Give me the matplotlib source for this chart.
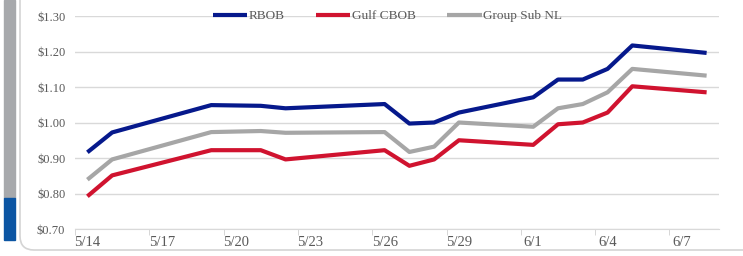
import matplotlib
matplotlib.use("Agg")
from matplotlib import pyplot as plt
from matplotlib.patches import Rectangle, FancyBboxPatch
import pandas as pd
import numpy as np

# data (dates with prices; gaps are bridged by straight lines)
dates = ["5/14", "5/15", "5/19", "5/21", "5/22", "5/26", "5/27", "5/28",
         "5/29", "6/1", "6/2", "6/3", "6/4", "6/5", "6/8"]
rbob = [0.916, 0.972, 1.049, 1.047, 1.040, 1.052, 0.997, 1.000,
        1.028, 1.071, 1.121, 1.121, 1.151, 1.217, 1.196]
gulf_cbob = [0.792, 0.851, 0.922, 0.922, 0.896, 0.922, 0.878, 0.896,
             0.950, 0.937, 0.995, 1.000, 1.028, 1.102, 1.085]
group_sub_nl = [0.839, 0.896, 0.973, 0.976, 0.971, 0.973, 0.917, 0.932,
                1.000, 0.988, 1.040, 1.052, 1.085, 1.151, 1.132]

tick_labels = ["5/14", "5/17", "5/20", "5/23", "5/26", "5/29", "6/1", "6/4", "6/7"]
y_ticks = [0.70, 0.80, 0.90, 1.00, 1.10, 1.20, 1.30]

BLUE = "#06198c"
RED = "#d0132f"
GREY = "#a6a6a6"
TXT = "#595959"
FONT = ["Liberation Serif", "DejaVu Serif"]

# day offsets from the first date
dt = pd.to_datetime([f"2018/{d}" for d in dates], format="%Y/%m/%d")
x = np.asarray((dt - dt[0]).days, dtype=float)
n_days = int(x[-1]) + 1

fig = plt.figure(figsize=(7.43, 2.56), dpi=100)

# background axes in pixel units: card frame and left accent bar from the screenshot
bg = fig.add_axes([0, 0, 1, 1])
bg.set_xlim(0, 743)
bg.set_ylim(256, 0)
bg.axis("off")
bg.add_patch(FancyBboxPatch((20, -60), 760, 310,
                            boxstyle="round,pad=0,rounding_size=14",
                            facecolor="white", edgecolor="#d4d4d4", linewidth=1.2))
bg.add_patch(Rectangle((4, 0), 11, 198, color="#a7a9ac"))
bg.add_patch(Rectangle((4, 198), 11, 42, color="#0b55a3"))

ax = fig.add_axes([75 / 743, 1 - 229 / 256, 644 / 743, 213 / 256])
ax.set_facecolor("none")

ax.plot(x, rbob, color=BLUE, lw=3, label="RBOB", solid_capstyle="butt", zorder=3)
ax.plot(x, gulf_cbob, color=RED, lw=3, label="Gulf CBOB", solid_capstyle="butt", zorder=3)
ax.plot(x, group_sub_nl, color=GREY, lw=3, label="Group Sub NL", solid_capstyle="butt", zorder=3)

ax.set_xlim(-0.5, n_days - 0.5)
ax.set_ylim(0.70, 1.30)

ax.set_yticks(y_ticks)
ax.set_yticklabels([f"${v:.2f}" for v in y_ticks], fontsize=9, color=TXT, family=FONT)
ax.tick_params(axis="y", length=0, pad=7)
ax.grid(axis="y", color="#d9d9d9", lw=1)
ax.set_axisbelow(True)

ax.set_xticks(np.arange(0, n_days, 3))
ax.set_xticklabels(tick_labels, fontsize=10.5, color=TXT, family=FONT)
ax.set_xticks(np.arange(-0.5, n_days, 3), minor=True)
ax.tick_params(axis="x", which="major", length=0, pad=5)
ax.tick_params(axis="x", which="minor", length=4, color="#d0d0d0", direction="out")

for s in ["top", "right", "left"]:
    ax.spines[s].set_visible(False)
ax.spines["bottom"].set_color("#d9d9d9")

leg = ax.legend(loc="center", bbox_to_anchor=(0.485, 1.0), ncol=3, frameon=False,
                handlelength=2.6, handletextpad=0.1, columnspacing=2.4,
                prop={"family": FONT, "size": 9.5})
for t in leg.get_texts():
    t.set_color(TXT)

fig.savefig("out.png", dpi=100)
